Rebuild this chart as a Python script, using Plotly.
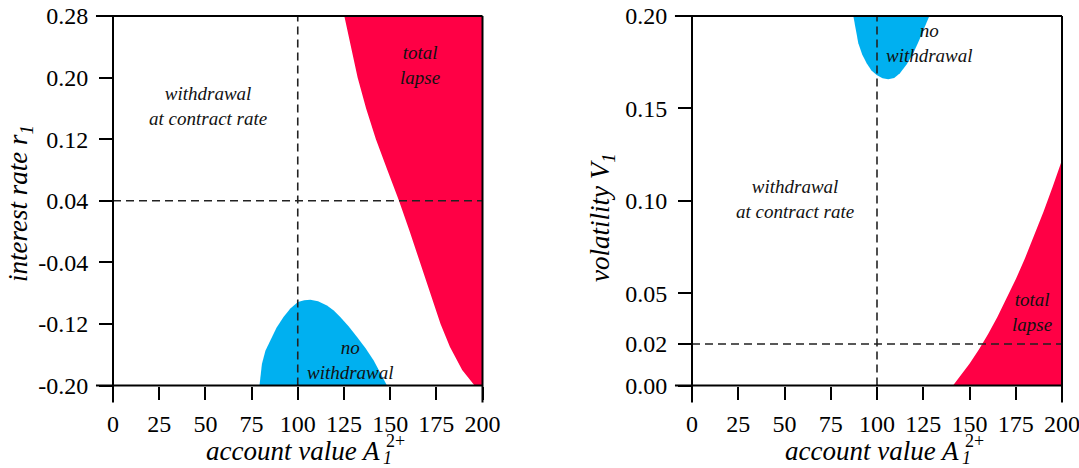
import plotly.graph_objects as go

# ---------------- data ----------------
# left panel: interest rate vs account value
left_lapse_x = [125.2, 128.6, 132.4, 137.0, 142.3, 148.5, 154.8, 160.6, 166.2, 171.6, 177.3, 182.4, 189.0, 195.7]
left_lapse_y = [0.28, 0.24, 0.20, 0.16, 0.12, 0.08, 0.04, 0.00, -0.04, -0.08, -0.12, -0.15, -0.18, -0.20]
left_nowd_x = [79.3, 80.6, 82.5, 85.1, 88.5, 92.3, 96.0, 100.1, 103.5, 106.8, 111.0, 115.8, 119.5, 123.0, 127.5, 132.1, 136.8, 141.1, 144.8, 148.3]
left_nowd_y = [-0.20, -0.172, -0.155, -0.1415, -0.125, -0.111, -0.100, -0.0916, -0.0893, -0.0886, -0.0905, -0.096, -0.1025, -0.111, -0.123, -0.137, -0.152, -0.1675, -0.184, -0.20]
left_ref_x = 100
left_ref_y = 0.04
left_yticks = [-0.20, -0.12, -0.04, 0.04, 0.12, 0.20, 0.28]
left_yticktext = ["-0.20", "-0.12", "-0.04", "0.04", "0.12", "0.20", "0.28"]

# right panel: volatility vs account value
right_nowd_x = [87.2, 88.4, 89.9, 92.0, 94.4, 97.0, 99.8, 103.0, 106.1, 109.3, 112.4, 116.0, 119.6, 122.5, 125.0, 128.3]
right_nowd_y = [0.20, 0.1925, 0.1852, 0.1792, 0.1744, 0.1705, 0.168, 0.1663, 0.1657, 0.1665, 0.169, 0.1737, 0.1798, 0.1862, 0.1924, 0.20]
right_lapse_x = [141.1, 145.0, 150.0, 155.0, 160.0, 165.0, 170.0, 175.0, 180.0, 185.0, 190.0, 195.0, 200.0]
right_lapse_y = [0.0, 0.0049, 0.0118, 0.0194, 0.0278, 0.0370, 0.0469, 0.0575, 0.0689, 0.0811, 0.0940, 0.1077, 0.1221]
right_ref_x = 100
right_ref_y = 0.0225
right_yticks = [0.0, 0.0225, 0.05, 0.10, 0.15, 0.20]
right_yticktext = ["0.00", "0.02", "0.05", "0.10", "0.15", "0.20"]

xticks = [0, 25, 50, 75, 100, 125, 150, 175, 200]
xrange_ = [0, 200]
left_yrange = [-0.20, 0.28]
right_yrange = [0.0, 0.20]

RED = "#FF0045"
BLUE = "#00B0F0"
FONT = "Liberation Serif"

fig = go.Figure()

def poly(xs, ys, color, xa, ya):
    fig.add_trace(go.Scatter(x=xs, y=ys, fill="toself", fillcolor=color, mode="lines",
                             line=dict(width=0, color=color), hoverinfo="skip",
                             showlegend=False, xaxis=xa, yaxis=ya))

# left panel regions
poly(left_lapse_x + [xrange_[1], xrange_[1]],
     left_lapse_y + [left_yrange[0], left_yrange[1]], RED, "x", "y")
poly(left_nowd_x, left_nowd_y, BLUE, "x", "y")
# right panel regions
poly(right_nowd_x, right_nowd_y, BLUE, "x2", "y2")
poly(right_lapse_x + [xrange_[1]], right_lapse_y + [right_yrange[0]], RED, "x2", "y2")

# dashed reference lines
dash = dict(color="#222222", width=1.6, dash="8px,5px")
fig.add_trace(go.Scatter(x=[left_ref_x, left_ref_x], y=left_yrange, mode="lines", line=dash,
                         showlegend=False, hoverinfo="skip", xaxis="x", yaxis="y"))
fig.add_trace(go.Scatter(x=xrange_, y=[left_ref_y, left_ref_y], mode="lines", line=dash,
                         showlegend=False, hoverinfo="skip", xaxis="x", yaxis="y"))
fig.add_trace(go.Scatter(x=[right_ref_x, right_ref_x], y=right_yrange, mode="lines", line=dash,
                         showlegend=False, hoverinfo="skip", xaxis="x2", yaxis="y2"))
fig.add_trace(go.Scatter(x=xrange_, y=[right_ref_y, right_ref_y], mode="lines", line=dash,
                         showlegend=False, hoverinfo="skip", xaxis="x2", yaxis="y2"))

W, H = 1079, 468
xdom1 = [113 / W, 482.5 / W]
xdom2 = [692 / W, 1062 / W]
ydom = [(H - 385.5) / H, (H - 16) / H]

axis_common = dict(showgrid=False, zeroline=False, showline=False, ticks="outside",
                   ticklen=13, tickwidth=2, tickcolor="black",
                   tickfont=dict(family=FONT, size=24, color="black"))

fig.update_layout(
    width=W, height=H, margin=dict(l=0, r=0, t=0, b=0, autoexpand=False),
    paper_bgcolor="white", plot_bgcolor="white", showlegend=False,
    xaxis=dict(domain=xdom1, range=xrange_, tickvals=xticks, anchor="y",
               ticklabelstandoff=4, ticklabeloverflow="allow", **axis_common),
    yaxis=dict(domain=ydom, range=left_yrange, tickvals=left_yticks, ticktext=left_yticktext,
               anchor="x", ticklabelstandoff=6, **axis_common),
    xaxis2=dict(domain=xdom2, range=xrange_, tickvals=xticks, anchor="y2",
                ticklabelstandoff=4, ticklabeloverflow="allow", **axis_common),
    yaxis2=dict(domain=ydom, range=right_yrange, tickvals=right_yticks, ticktext=right_yticktext,
                anchor="x2", ticklabelstandoff=6, **axis_common),
)

# frames (spines), extended slightly past the corner like the reference
ext = 17 / 369
for xr, yr in (("x domain", "y domain"), ("x2 domain", "y2 domain")):
    ln = dict(color="black", width=2)
    fig.add_shape(type="line", xref=xr, yref=yr, x0=-ext, x1=1, y0=0, y1=0, line=ln)
    fig.add_shape(type="line", xref=xr, yref=yr, x0=-ext, x1=1, y0=1, y1=1, line=ln)
    fig.add_shape(type="line", xref=xr, yref=yr, x0=0, x1=0, y0=-ext, y1=1, line=ln)
    fig.add_shape(type="line", xref=xr, yref=yr, x0=1, x1=1, y0=-ext, y1=1, line=ln)

# region labels
lab_font = dict(family=FONT, size=19, color="#111111")
labels = [
    ("x", "y", 51.5, 0.163, "<i>withdrawal<br>at contract rate</i>"),
    ("x", "y", 166.0, 0.216, "<i>total<br>lapse</i>"),
    ("x", "y", 128.5, -0.1675, "<i>no<br>withdrawal</i>"),
    ("x2", "y2", 55.7, 0.101, "<i>withdrawal<br>at contract rate</i>"),
    ("x2", "y2", 128.6, 0.1854, "<i>no<br>withdrawal</i>"),
    ("x2", "y2", 183.8, 0.040, "<i>total<br>lapse</i>"),
]
for xr, yr, xv, yv, txt in labels:
    fig.add_annotation(xref=xr, yref=yr, x=xv, y=yv, text=txt, showarrow=False,
                       font=lab_font, align="center", xanchor="center", yanchor="middle")

# axis titles (x title: "account value A" with stacked sub/superscript)
tfont = dict(family=FONT, size=27, color="black")
supfont = dict(family=FONT, size=18, color="black")
for dom_left in (113, 692):
    a_right = dom_left + 269
    fig.add_annotation(xref="paper", yref="paper", x=a_right / W, y=(H - 451) / H,
                       xanchor="right", yanchor="middle", text="<i>account value A</i>",
                       showarrow=False, font=tfont)
    fig.add_annotation(xref="paper", yref="paper", x=(a_right + 2) / W, y=(H - 441) / H,
                       xanchor="left", yanchor="middle", text="2+",
                       showarrow=False, font=supfont)
    fig.add_annotation(xref="paper", yref="paper", x=(a_right - 1) / W, y=(H - 458) / H,
                       xanchor="left", yanchor="middle", text="<i>1</i>",
                       showarrow=False, font=supfont)

fig.add_annotation(xref="paper", yref="paper", x=20 / W, y=(H - 204) / H,
                   text="<i>interest rate r<sub>1</sub></i>", textangle=-90,
                   xanchor="center", yanchor="middle", showarrow=False, font=tfont)
fig.add_annotation(xref="paper", yref="paper", x=602 / W, y=(H - 218) / H,
                   text="<i>volatility V<sub>1</sub></i>", textangle=-90,
                   xanchor="center", yanchor="middle", showarrow=False, font=tfont)

fig.write_html("out.html", config={"displayModeBar": False},
               post_script="document.body.style.margin='0px';")
